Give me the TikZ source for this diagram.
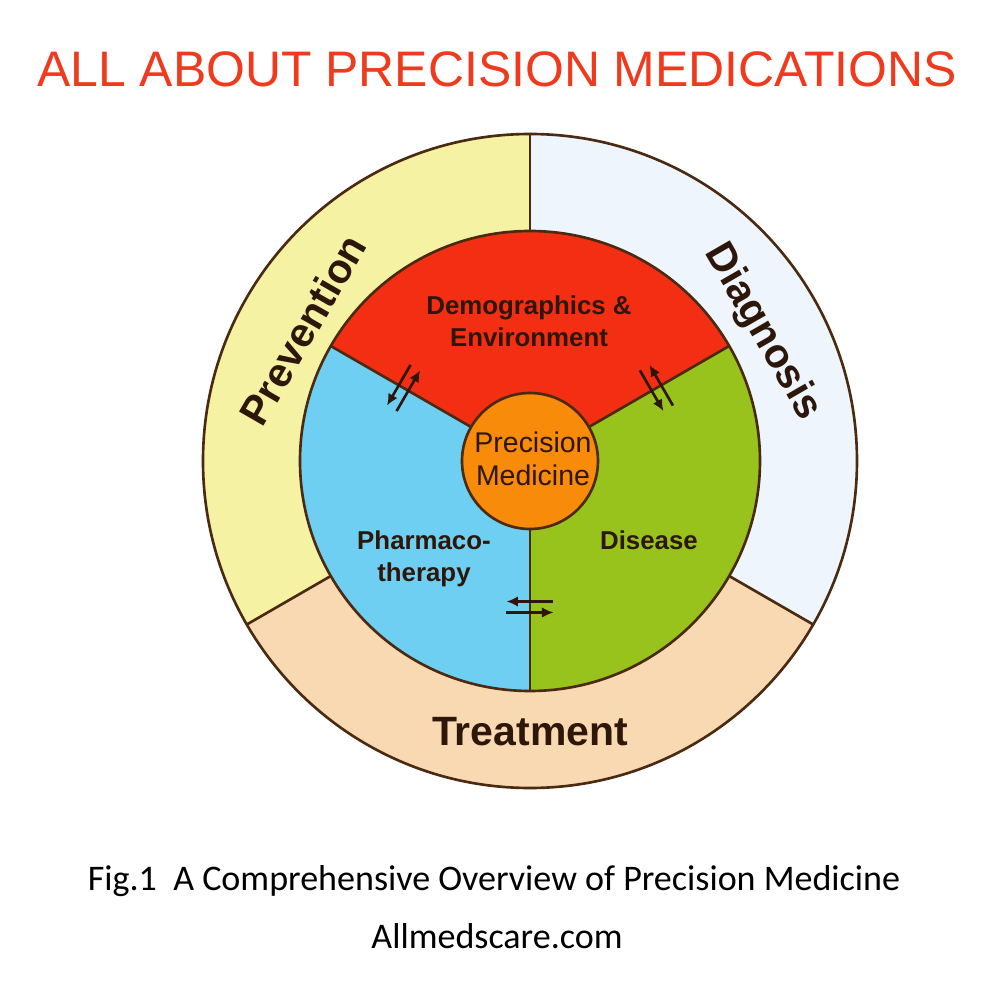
\documentclass[tikz,border=0pt]{standalone}
\usepackage{fontspec}
\setmainfont{Liberation Sans}
\newfontfamily\captionfont{Carlito}
\usetikzlibrary{arrows.meta}
\definecolor{prevfill}{HTML}{F5F2A4}
\definecolor{diagfill}{HTML}{EEF5FC}
\definecolor{treatfill}{HTML}{F9D9B2}
\definecolor{demofill}{HTML}{F42E12}
\definecolor{pharmfill}{HTML}{6ECFF3}
\definecolor{disfill}{HTML}{97C31C}
\definecolor{corefill}{HTML}{F98B0A}
\definecolor{rimline}{HTML}{4B2A12}
\definecolor{labeltext}{HTML}{2D160A}
\definecolor{titletext}{HTML}{EF3A1D}
\tikzset{
  rim/.style={draw=rimline, line width=1.5pt},
  ringlabel/.style={font=\fontsize{23.3}{28}\selectfont\bfseries, text=labeltext,
                    inner sep=0pt, text depth=0pt},
  seclabel/.style={font=\fontsize{14.7}{18.5}\selectfont\bfseries, text=labeltext,
                   align=center, inner sep=0pt, anchor=north},
  corelabel/.style={font=\fontsize{16.2}{18.4}\selectfont, text=labeltext,
                    align=center, inner sep=0pt, anchor=north},
  swap/.style={-{Latex[length=2.3mm, width=2.1mm]}, line width=1.5pt, draw=labeltext},
}
\def\outerR{6.54}
\def\innerR{4.6}
\def\coreR{1.36}

\begin{document}
\begin{tikzpicture}

\useasboundingbox[fill=white] (-10.6,-10.78) rectangle (9.4,9.22);

% Title
\node[font=\fontsize{28.4}{32}\selectfont, text=titletext, anchor=base, inner sep=0pt]
  (title) at (-0.66,7.48) {ALL ABOUT PRECISION MEDICATIONS};

% Outer ring: prevention, diagnosis, treatment
\fill[prevfill]  (0,0) -- (90:\outerR)  arc[start angle=90,  end angle=210, radius=\outerR] -- cycle;
\fill[treatfill] (0,0) -- (210:\outerR) arc[start angle=210, end angle=330, radius=\outerR] -- cycle;
\fill[diagfill]  (0,0) -- (330:\outerR) arc[start angle=330, end angle=450, radius=\outerR] -- cycle;
\draw[rim] (0,0) circle[radius=\outerR];
\foreach \a in {90,210,330}
  \draw[rim] (\a:\innerR) -- (\a:\outerR);

% Inner disc: three factors
\fill[demofill]  (0,0) -- (30:\innerR)  arc[start angle=30,  end angle=150, radius=\innerR] -- cycle;
\fill[pharmfill] (0,0) -- (150:\innerR) arc[start angle=150, end angle=270, radius=\innerR] -- cycle;
\fill[disfill]   (0,0) -- (270:\innerR) arc[start angle=270, end angle=390, radius=\innerR] -- cycle;
\draw[rim] (0,0) circle[radius=\innerR];
\foreach \a in {30,150,270}
  \draw[rim] (0,0) -- (\a:\innerR);

% Core
\draw[rim, fill=corefill] (0,0) circle[radius=\coreR];
\node[corelabel] (core) at (0.06,0.58) {Precision\\Medicine};

% Exchange arrows across the three borders
\foreach \a in {30,150,270} {
  \begin{scope}[rotate=\a]
    \coordinate (o1\a) at (3.03,-0.47); \coordinate (o2\a) at (3.03,0.47);
    \coordinate (i1\a) at (2.81,0.47);  \coordinate (i2\a) at (2.81,-0.47);
    \draw[swap] (o1\a) -- (o2\a);
    \draw[swap] (i1\a) -- (i2\a);
  \end{scope}
}

% Factor labels
\node[seclabel] (demo)  at (-0.02,3.32) {Demographics \&\\Environment};
\node[seclabel] (pharm) at (-2.12,-1.38) {Pharmaco-\\therapy};
\node[seclabel] (dis)   at (2.38,-1.38) {Disease};

% Ring labels
\node[ringlabel, rotate=60]  (prev)  at (150:5.25) {Prevention};
\node[ringlabel, rotate=-60] (diag)  at (29:5.4)   {Diagnosis};
\node[ringlabel]             (treat) at (270:5.4)  {Treatment};

% Caption
\node[font=\captionfont\fontsize{20.5}{24}\selectfont, anchor=base, inner sep=0pt]
  (fig) at (-0.72,-8.58) {Fig.1\ \ A Comprehensive Overview of Precision Medicine};
\node[font=\captionfont\fontsize{20.5}{24}\selectfont, anchor=base, inner sep=0pt]
  (site) at (-0.66,-9.74) {Allmedscare.com};

\end{tikzpicture}
\end{document}
